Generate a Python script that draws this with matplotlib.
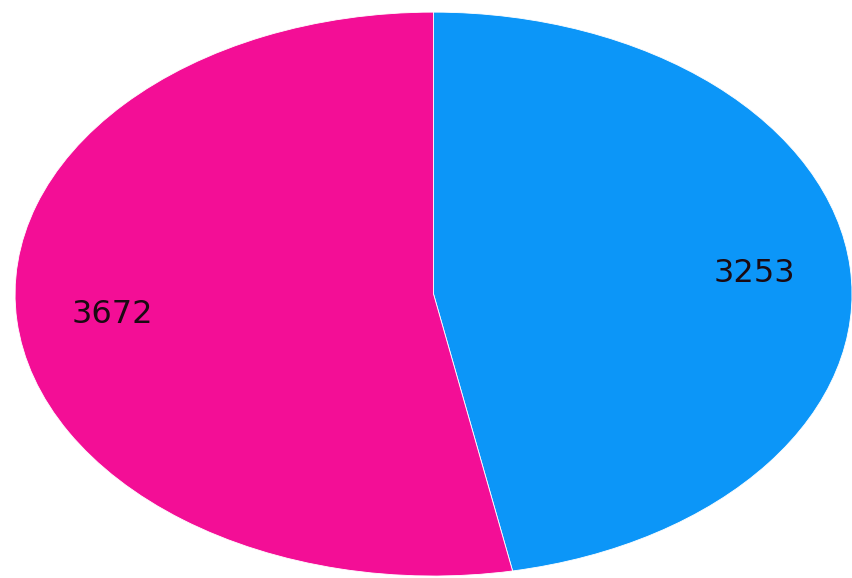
import matplotlib
matplotlib.use("Agg")
import matplotlib.pyplot as plt

# slice values, clockwise from 12 o'clock
values = [3253, 3672]
labels = [str(v) for v in values]
colors = ["#0c96f8", "#f30e96"]

fig = plt.figure(figsize=(8.52, 5.78), dpi=100)
ax = fig.add_axes([0, 0, 1, 1])

wedges, texts = ax.pie(values, labels=labels, colors=colors,
                       startangle=90, counterclock=False,
                       labeldistance=0.77,
                       wedgeprops=dict(edgecolor="white", linewidth=0.6),
                       textprops=dict(fontsize=23, color="#1a0a12",
                                      fontweight="medium"))
for t in texts:
    t.set_ha("center")
    t.set_va("center")

# stretch the pie into the same ellipse as the reference
ax.set_aspect("auto")
ax.set_xlim(-1.036, 1.0)
ax.set_ylim(-1.007, 1.043)
ax.axis("off")

plt.savefig("out.png", dpi=100)
